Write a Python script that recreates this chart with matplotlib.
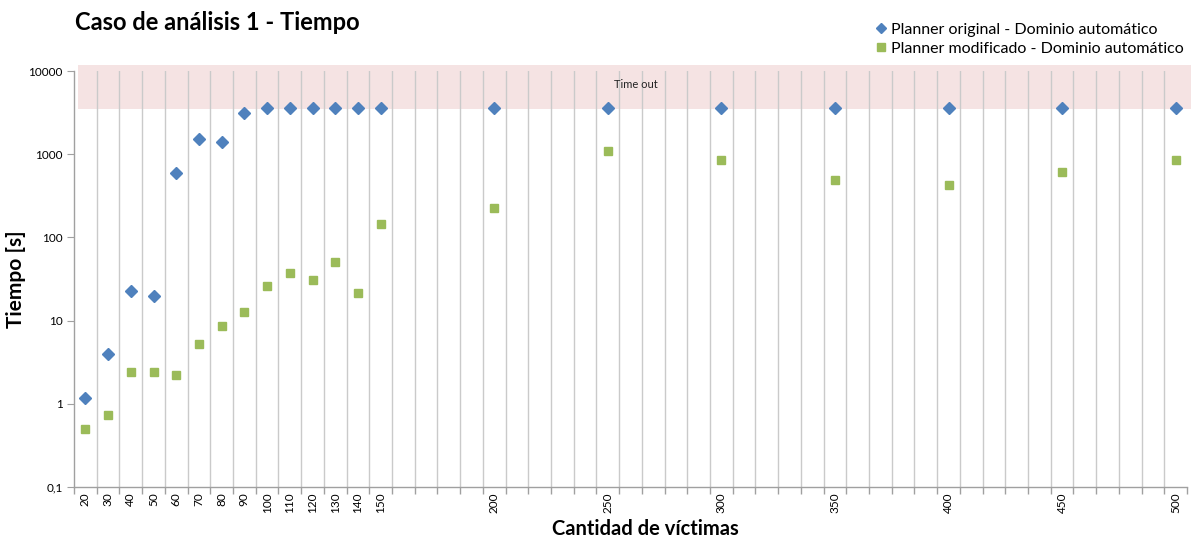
import matplotlib
matplotlib.use("Agg")
import matplotlib.pyplot as plt
from matplotlib.patches import Rectangle
from matplotlib.ticker import FixedLocator, FixedFormatter, NullLocator
import matplotlib.transforms as mtransforms
import numpy as np

plt.rcParams['font.family'] = ['Lato', 'DejaVu Sans']

victimas = [20, 30, 40, 50, 60, 70, 80, 90, 100, 110, 120, 130, 140, 150,
            200, 250, 300, 350, 400, 450, 500]
original = [1.18, 4.0, 23, 20, 600, 1530, 1420, 3110, 3600, 3600, 3600, 3600, 3600, 3600,
            3600, 3600, 3600, 3600, 3600, 3600, 3600]
modificado = [0.5, 0.73, 2.42, 2.42, 2.23, 5.25, 8.7, 12.7, 25.8, 36.9, 30.8, 50.6, 21.7, 146,
              227, 1100, 840, 483, 426, 603, 840]
labeled_ticks = [20, 30, 40, 50, 60, 70, 80, 90, 100, 110, 120, 130, 140, 150,
                 200, 250, 300, 350, 400, 450, 500]
y_ticks = [0.1, 1, 10, 100, 1000, 10000]
y_labels = ['0,1', '1', '10', '100', '1000', '10000']
timeout_value = 3600

blue = '#4F81BD'
green = '#9BBB59'

fig = plt.figure(figsize=(11.94, 5.40), dpi=100)
ax = fig.add_axes([74/1194, 1-487/540, (1187-74)/1194, (487-71)/540])

ax.set_yscale('log')
ax.set_ylim(0.1, 10000)
ax.set_xlim(15, 505)

# Time out band
trans = mtransforms.blended_transform_factory(ax.transAxes, ax.transData)
band = Rectangle((0.0036, 3450), 1.0, 11800 - 3450, transform=trans,
                 facecolor='#F5E3E3', edgecolor='none', clip_on=False, zorder=0)
ax.add_patch(band)
ax.text(0.505, 6900, 'Time out', transform=trans, ha='center', va='center',
        fontsize=8, color='#222222', zorder=3)

# gridlines at category boundaries
bounds = list(range(25, 500, 10))
ax.xaxis.set_minor_locator(FixedLocator([15] + bounds + [505]))
ax.xaxis.set_major_locator(FixedLocator(labeled_ticks))
ax.xaxis.set_major_formatter(FixedFormatter([str(v) for v in labeled_ticks]))
for b in bounds:
    ax.axvline(b, color='#CACACA', lw=1.0, zorder=1)

ax.tick_params(axis='x', which='major', length=0, labelsize=8.5, labelrotation=90, pad=4)
ax.tick_params(axis='x', which='minor', length=5, color='#A0A0A0', width=1)

ax.yaxis.set_major_locator(FixedLocator(y_ticks))
ax.yaxis.set_major_formatter(FixedFormatter(y_labels))
ax.yaxis.set_minor_locator(NullLocator())
ax.tick_params(axis='y', which='major', length=5, color='#A0A0A0', labelsize=8.5, pad=3)

for s in ['top', 'right']:
    ax.spines[s].set_visible(False)
for s in ['left', 'bottom']:
    ax.spines[s].set_color('#A0A0A0')
    ax.spines[s].set_linewidth(1)

ax.plot(victimas, original, linestyle='none', marker='D', markersize=6.5,
        color=blue, markeredgecolor=blue, zorder=4,
        label='Planner original - Dominio automático')
ax.plot(victimas, modificado, linestyle='none', marker='s', markersize=6,
        color=green, markeredgecolor=green, zorder=4,
        label='Planner modificado - Dominio automático')

fig.text(75/1194, 1-22/540, 'Caso de análisis 1 - Tiempo', fontsize=17,
         fontweight='bold', ha='left', va='center')
ax.set_ylabel('Tiempo [s]', fontsize=15, fontweight='bold')
ax.yaxis.set_label_coords((26-74)/1113, 0.5)
ax.set_xlabel('Cantidad de víctimas', fontsize=14.5, fontweight='bold')
ax.xaxis.set_label_coords((645-74)/1113, -(519-487)/416)

leg = fig.legend(loc='upper right', bbox_to_anchor=(1190/1194, 1-16/540),
                 frameon=False, fontsize=11.5, handletextpad=0.2,
                 handlelength=0.8, labelspacing=0.3, borderaxespad=0)
leg.legend_handles[0].set_markersize(5.5)
leg.legend_handles[1].set_markersize(5.5)

fig.savefig('out.png', dpi=100)
